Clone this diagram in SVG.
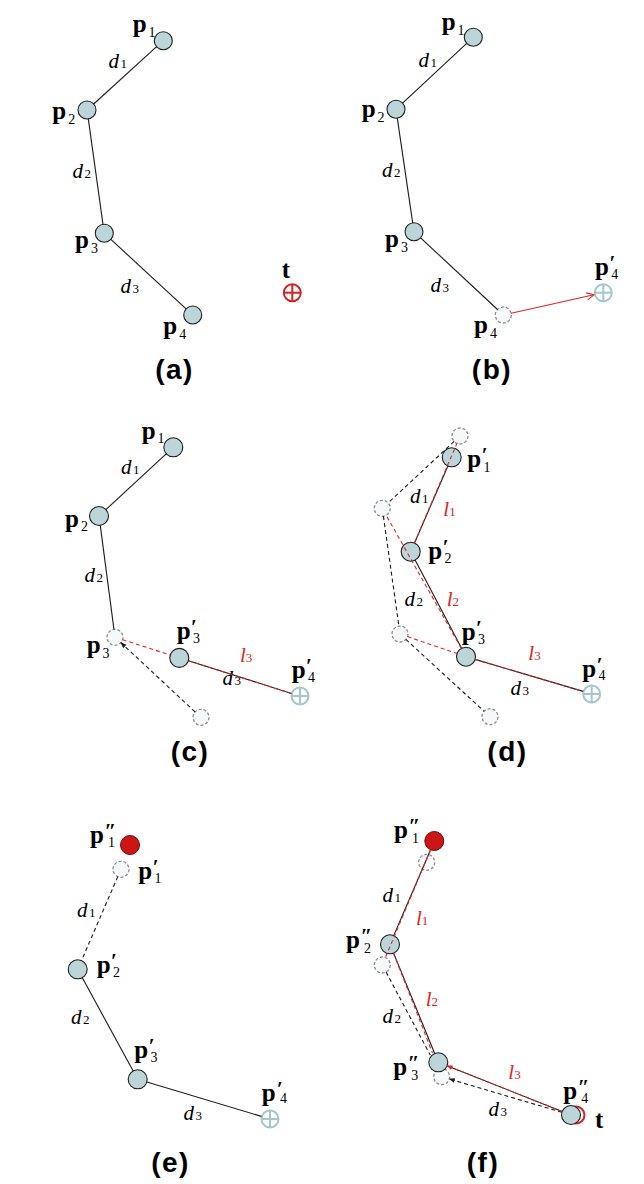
<svg xmlns="http://www.w3.org/2000/svg" width="644" height="1184" viewBox="0 0 644 1184">
<style>
.n{fill:#bcd5d9;stroke:#1e1e1e;stroke-width:1.1}
.g{fill:#f6f9f9;stroke:#8c8c8c;stroke-width:1.3;stroke-dasharray:3 2}
.r{fill:#cc1616;stroke:#6a0d0d;stroke-width:1}
.tb{fill:#fff;stroke:#a3c7cd;stroke-width:2}
.tr{fill:#fff;stroke:#d42222;stroke-width:2}
.ln{stroke:#1a1a1a;stroke-width:1.1;fill:none}
.dl{stroke:#1a1a1a;stroke-width:1.1;fill:none;stroke-dasharray:4 3}
.rd{stroke:#e02424;stroke-width:1.1;fill:none;stroke-dasharray:4 3}
.ra{stroke:#e02424;stroke-width:1.1;fill:none}
.p{font-family:"Liberation Serif","Times New Roman",serif;font-weight:bold;font-size:25px;fill:#000}
.pr{font-size:21px;font-weight:bold}
.s{font-size:14px;font-weight:normal}
.d{font-family:"Liberation Serif","Times New Roman",serif;font-style:italic;font-size:21px;fill:#000}
.ds{font-size:13px;font-style:normal}
.l{font-family:"Liberation Serif","Times New Roman",serif;font-style:italic;font-size:21px;fill:#e02424}
.cap{font-family:"Liberation Sans",Arial,sans-serif;font-weight:bold;font-size:28px;text-anchor:middle;letter-spacing:1.5px;fill:#000}
</style>
<defs>
<g id="tgtB"><circle class="tb" r="8.5"/><line x1="-8.5" y1="0" x2="8.5" y2="0" stroke="#a3c7cd" stroke-width="2"/><line x1="0" y1="-8.5" x2="0" y2="8.5" stroke="#a3c7cd" stroke-width="2"/></g>
<g id="tgtR"><circle class="tr" r="8.5"/><line x1="-8.5" y1="0" x2="8.5" y2="0" stroke="#d42222" stroke-width="2"/><line x1="0" y1="-8.5" x2="0" y2="8.5" stroke="#d42222" stroke-width="2"/></g>
<marker id="openR" viewBox="0 0 10 10" refX="9" refY="5" markerWidth="9" markerHeight="9" markerUnits="userSpaceOnUse" orient="auto"><path d="M1,1 L9,5 L1,9" fill="none" stroke="#e02424" stroke-width="1.2"/></marker>
<marker id="ahK" viewBox="0 0 10 10" refX="9" refY="5" markerWidth="6" markerHeight="6" markerUnits="userSpaceOnUse" orient="auto"><path d="M0,1 L10,5 L0,9 Z" fill="#1a1a1a"/></marker>
<marker id="ahR" viewBox="0 0 10 10" refX="9" refY="5" markerWidth="6" markerHeight="6" markerUnits="userSpaceOnUse" orient="auto"><path d="M0,1 L10,5 L0,9 Z" fill="#e02424"/></marker>
</defs>

<!-- Panel (a) -->
<g id="a-p1"><circle class="n" cx="163.3" cy="40.7" r="9"/><text class="p" x="132.7" y="32">p<tspan class="s" dx="2" dy="5">1</tspan></text></g>
<g id="a-p2"><circle class="n" cx="87" cy="110" r="9"/><text class="p" x="52.3" y="118.5">p<tspan class="s" dx="2" dy="5">2</tspan></text></g>
<g id="a-p3"><circle class="n" cx="104.3" cy="233.3" r="9"/><text class="p" x="75" y="248">p<tspan class="s" dx="2" dy="5">3</tspan></text></g>
<g id="a-p4"><circle class="n" cx="192.7" cy="315" r="9"/><text class="p" x="163.3" y="334">p<tspan class="s" dx="2" dy="5">4</tspan></text></g>
<g id="a-t"><use href="#tgtR" transform="translate(292.3,292.7)"/><text class="p" x="281.7" y="278.3">t</text></g>
<g id="a-labels"><text class="d" x="108.5" y="68">d<tspan class="ds" dx="1.5">1</tspan></text><text class="d" x="72.5" y="178.3">d<tspan class="ds" dx="1.5">2</tspan></text><text class="d" x="120.5" y="292.7">d<tspan class="ds" dx="1.5">3</tspan></text></g>
<text class="cap" x="174.5" y="379">(a)</text>

<!-- Panel (b) -->
<g id="b-p1"><circle class="n" cx="473.3" cy="37.3" r="9"/><text class="p" x="441.7" y="30">p<tspan class="s" dx="2" dy="5">1</tspan></text></g>
<g id="b-p2"><circle class="n" cx="396" cy="109.3" r="9"/><text class="p" x="361.7" y="116.7">p<tspan class="s" dx="2" dy="5">2</tspan></text></g>
<g id="b-p3"><circle class="n" cx="414" cy="231.7" r="9"/><text class="p" x="385" y="246.7">p<tspan class="s" dx="2" dy="5">3</tspan></text></g>
<g id="b-p4"><circle class="g" cx="503.3" cy="315" r="8"/><text class="p" x="474" y="333.3">p<tspan class="s" dx="2" dy="5">4</tspan></text></g>
<g id="b-p4n"><use href="#tgtB" transform="translate(603.3,292.7)"/><text class="p" x="595" y="275">p<tspan class="pr" dx="0.5" dy="-5">′</tspan><tspan class="s" dx="-4" dy="8.5">4</tspan></text></g>
<g id="b-labels"><text class="d" x="418.5" y="66.7">d<tspan class="ds" dx="1.5">1</tspan></text><text class="d" x="382" y="176.7">d<tspan class="ds" dx="1.5">2</tspan></text><text class="d" x="430.5" y="291.7">d<tspan class="ds" dx="1.5">3</tspan></text></g>
<text class="cap" x="492" y="379">(b)</text>

<!-- Panel (c) -->
<g id="c-g3"><circle class="g" cx="115" cy="637.3" r="8"/><text class="p" x="86.7" y="652.7">p<tspan class="s" dx="2" dy="5">3</tspan></text></g>
<g id="c-g4"><circle class="g" cx="201" cy="717.3" r="8"/></g>
<g id="c-p1"><circle class="n" cx="173.3" cy="447.3" r="9.5"/><text class="p" x="141.7" y="439.3">p<tspan class="s" dx="2" dy="4">1</tspan></text></g>
<g id="c-p2"><circle class="n" cx="99" cy="516" r="9.5"/><text class="p" x="65" y="527">p<tspan class="s" dx="2" dy="4">2</tspan></text></g>
<g id="c-p3n"><circle class="n" cx="179.3" cy="657.9" r="9.5"/><text class="p" x="176.7" y="639.3">p<tspan class="pr" dx="0.5" dy="-5">′</tspan><tspan class="s" dx="-4" dy="9">3</tspan></text></g>
<g id="c-p4n"><use href="#tgtB" transform="translate(300,696)"/><text class="p" x="291.7" y="678.3">p<tspan class="pr" dx="0.5" dy="-5">′</tspan><tspan class="s" dx="-4" dy="8.5">4</tspan></text></g>
<g id="c-labels"><text class="d" x="121" y="474">d<tspan class="ds" dx="1.5">1</tspan></text><text class="d" x="84.5" y="581.7">d<tspan class="ds" dx="1.5">2</tspan></text><text class="d" x="222.5" y="685">d<tspan class="ds" dx="1.5">3</tspan></text><text class="l" x="240" y="661.7">l<tspan class="ds" dx="0">3</tspan></text></g>
<text class="cap" x="190" y="761">(c)</text>

<!-- Panel (d) -->
<g id="d-g1"><circle class="g" cx="460" cy="436" r="8"/></g>
<g id="d-g2"><circle class="g" cx="382.3" cy="508.3" r="8"/></g>
<g id="d-g3"><circle class="g" cx="400" cy="634" r="8"/></g>
<g id="d-g4"><circle class="g" cx="490" cy="716.7" r="8"/></g>
<g id="d-p1n"><circle class="n" cx="451.7" cy="457.3" r="9.5"/><text class="p" x="467.3" y="466.7">p<tspan class="pr" dx="0.5" dy="-5">′</tspan><tspan class="s" dx="-4" dy="10">1</tspan></text></g>
<g id="d-p2n"><circle class="n" cx="410.7" cy="551.7" r="9.5"/><text class="p" x="428.3" y="559.3">p<tspan class="pr" dx="0.5" dy="-5">′</tspan><tspan class="s" dx="-4" dy="9">2</tspan></text></g>
<g id="d-p3n"><circle class="n" cx="466" cy="656.7" r="9.5"/><text class="p" x="461.7" y="640">p<tspan class="pr" dx="0.5" dy="-5">′</tspan><tspan class="s" dx="-4" dy="9">3</tspan></text></g>
<g id="d-p4n"><use href="#tgtB" transform="translate(591.7,694)"/><text class="p" x="582.3" y="676.7">p<tspan class="pr" dx="0.5" dy="-5">′</tspan><tspan class="s" dx="-4" dy="8.5">4</tspan></text></g>
<g id="d-labels"><text class="d" x="410" y="502.7">d<tspan class="ds" dx="1.5">1</tspan></text><text class="l" x="443.3" y="516">l<tspan class="ds" dx="0">1</tspan></text><text class="d" x="404.5" y="606">d<tspan class="ds" dx="1.5">2</tspan></text><text class="l" x="446.7" y="606">l<tspan class="ds" dx="0">2</tspan></text><text class="l" x="528.3" y="660">l<tspan class="ds" dx="0">3</tspan></text><text class="d" x="510.5" y="695">d<tspan class="ds" dx="1.5">3</tspan></text></g>
<text class="cap" x="507.5" y="761">(d)</text>

<!-- Panel (e) -->
<g id="e-g1"><circle class="g" cx="121" cy="869.3" r="8"/><text class="p" x="138.3" y="879.3">p<tspan class="pr" dx="0.5" dy="-5">′</tspan><tspan class="s" dx="-4" dy="8.5">1</tspan></text></g>
<g id="e-p1nn"><circle class="r" cx="130" cy="845" r="9.5"/><text class="p" x="90" y="843.3">p<tspan class="pr" dx="0.5" dy="-5">″</tspan><tspan class="s" dx="-8" dy="8.5">1</tspan></text></g>
<g id="e-p2n"><circle class="n" cx="77.7" cy="969.3" r="9.5"/><text class="p" x="96.7" y="973.3">p<tspan class="pr" dx="0.5" dy="-5">′</tspan><tspan class="s" dx="-4" dy="9">2</tspan></text></g>
<g id="e-p3n"><circle class="n" cx="137.7" cy="1079.3" r="9.5"/><text class="p" x="134.3" y="1058.3">p<tspan class="pr" dx="0.5" dy="-5">′</tspan><tspan class="s" dx="-4" dy="8.5">3</tspan></text></g>
<g id="e-p4n"><use href="#tgtB" transform="translate(270,1119)"/><text class="p" x="261.7" y="1100.7">p<tspan class="pr" dx="1.5" dy="-5">′</tspan><tspan class="s" dx="-3" dy="7">4</tspan></text></g>
<g id="e-labels"><text class="d" x="77" y="917.3">d<tspan class="ds" dx="1.5">1</tspan></text><text class="d" x="71" y="1024">d<tspan class="ds" dx="1.5">2</tspan></text><text class="d" x="183.5" y="1120">d<tspan class="ds" dx="1.5">3</tspan></text></g>
<text class="cap" x="170.5" y="1172">(e)</text>

<!-- Panel (f) -->
<g id="f-g1"><circle class="g" cx="426.7" cy="862.3" r="8"/></g>
<g id="f-g2"><circle class="g" cx="382.3" cy="965" r="8"/></g>
<g id="f-g3"><circle class="g" cx="441.7" cy="1076.7" r="8"/></g>
<g id="f-p1nn"><circle class="r" cx="434.3" cy="841" r="9.5"/><text class="p" x="394" y="838.3">p<tspan class="pr" dx="0.5" dy="-5">″</tspan><tspan class="s" dx="-8" dy="10">1</tspan></text></g>
<g id="f-p2nn"><circle class="n" cx="390" cy="944.3" r="9.5"/><text class="p" x="346" y="948.3">p<tspan class="pr" dx="0.5" dy="-5">″</tspan><tspan class="s" dx="-8" dy="9.5">2</tspan></text></g>
<g id="f-p3nn"><circle class="n" cx="438.3" cy="1062.3" r="9.5"/><text class="p" x="393.3" y="1075">p<tspan class="pr" dx="0.5" dy="-5">″</tspan><tspan class="s" dx="-8" dy="10">3</tspan></text></g>
<g id="f-t"><circle class="tr" cx="576" cy="1115" r="8.5"/><text class="p" x="595" y="1128.3">t</text></g>
<g id="f-p4nn"><circle class="n" cx="571" cy="1115" r="9.5"/><text class="p" x="563.3" y="1099.3">p<tspan class="pr" dx="0.5" dy="-5">″</tspan><tspan class="s" dx="-8" dy="8.5">4</tspan></text></g>
<g id="f-labels"><text class="d" x="382.5" y="901.7">d<tspan class="ds" dx="1.5">1</tspan></text><text class="l" x="416" y="925">l<tspan class="ds" dx="0">1</tspan></text><text class="l" x="425.7" y="1006">l<tspan class="ds" dx="0">2</tspan></text><text class="d" x="382.5" y="1022.7">d<tspan class="ds" dx="1.5">2</tspan></text><text class="l" x="508.3" y="1079.3">l<tspan class="ds" dx="0">3</tspan></text><text class="d" x="488.5" y="1116">d<tspan class="ds" dx="1.5">3</tspan></text></g>
<text class="cap" x="483" y="1172">(f)</text>

<g id="connectors">
<!-- (a) -->
<line class="ln" x1="156.6" y1="46.7" x2="93.7" y2="104"/>
<line class="ln" x1="88.3" y1="118.9" x2="103" y2="224.4"/>
<line class="ln" x1="110.9" y1="239.4" x2="186.1" y2="308.9"/>
<!-- (b) -->
<line class="ln" x1="466.7" y1="43.4" x2="402.6" y2="103.2"/>
<line class="ln" x1="397.3" y1="118.2" x2="412.7" y2="222.8"/>
<line class="ln" x1="420.6" y1="237.8" x2="497.5" y2="309.5"/>
<line class="ra" x1="511.1" y1="313.3" x2="594" y2="294.8" marker-end="url(#openR)"/>
<!-- (c) -->
<line class="ln" x1="166.7" y1="453.4" x2="105.6" y2="509.9"/>
<line class="ln" x1="100.2" y1="524.9" x2="113.95" y2="629.4"/>
<line class="ln" x1="188.4" y1="660.7" x2="291.4" y2="693.4"/>
<line class="rd" x1="122.6" y1="639.7" x2="170.3" y2="655"/>
<line class="rd" x1="188.4" y1="660.7" x2="291.4" y2="693.4"/>
<line class="dl" x1="195.1" y1="711.9" x2="120.9" y2="642.7" marker-end="url(#ahK)"/>
<!-- (d) -->
<line class="dl" x1="454.1" y1="441.4" x2="388.2" y2="502.9"/>
<line class="dl" x1="383.4" y1="516.2" x2="398.9" y2="626.1"/>
<line class="dl" x1="405.9" y1="639.4" x2="484.1" y2="711.3"/>
<line class="ln" x1="447.9" y1="466" x2="414.5" y2="543"/>
<line class="ln" x1="415.1" y1="560.1" x2="461.6" y2="648.3"/>
<line class="ln" x1="475.1" y1="659.4" x2="583.1" y2="691.4"/>
<line class="rd" x1="414.4" y1="543" x2="456.9" y2="443.4"/>
<line class="rd" x1="461.3" y1="648.4" x2="386.2" y2="515.3"/>
<line class="rd" x1="407.6" y1="636.6" x2="457" y2="653.6"/>
<line class="rd" x1="475.1" y1="659.4" x2="583.1" y2="691.4"/>
<!-- (e) -->
<line class="dl" x1="117.8" y1="876.6" x2="81.5" y2="960.6"/>
<line class="ln" x1="82.2" y1="977.6" x2="133.2" y2="1071"/>
<line class="ln" x1="146.8" y1="1082" x2="261.4" y2="1116.4"/>
<!-- (f) -->
<line class="ln" x1="430.6" y1="849.7" x2="393.7" y2="935.6"/>
<line class="ln" x1="393.6" y1="953.1" x2="434.7" y2="1053.5"/>
<line class="ln" x1="447.1" y1="1065.8" x2="562.2" y2="1111.5"/>
<line class="dl" x1="386.1" y1="972.1" x2="430.2" y2="1055"/>
<line class="dl" x1="561.9" y1="1112.3" x2="449.4" y2="1079" marker-end="url(#ahK)"/>
<line class="rd" x1="430.6" y1="849.8" x2="385.4" y2="957.6"/>
<line class="rd" x1="393.5" y1="953.2" x2="432.5" y2="1053"/>
<line class="rd" x1="562.2" y1="1111.5" x2="447.1" y2="1065.8" marker-end="url(#ahR)"/>
</g>
</svg>
